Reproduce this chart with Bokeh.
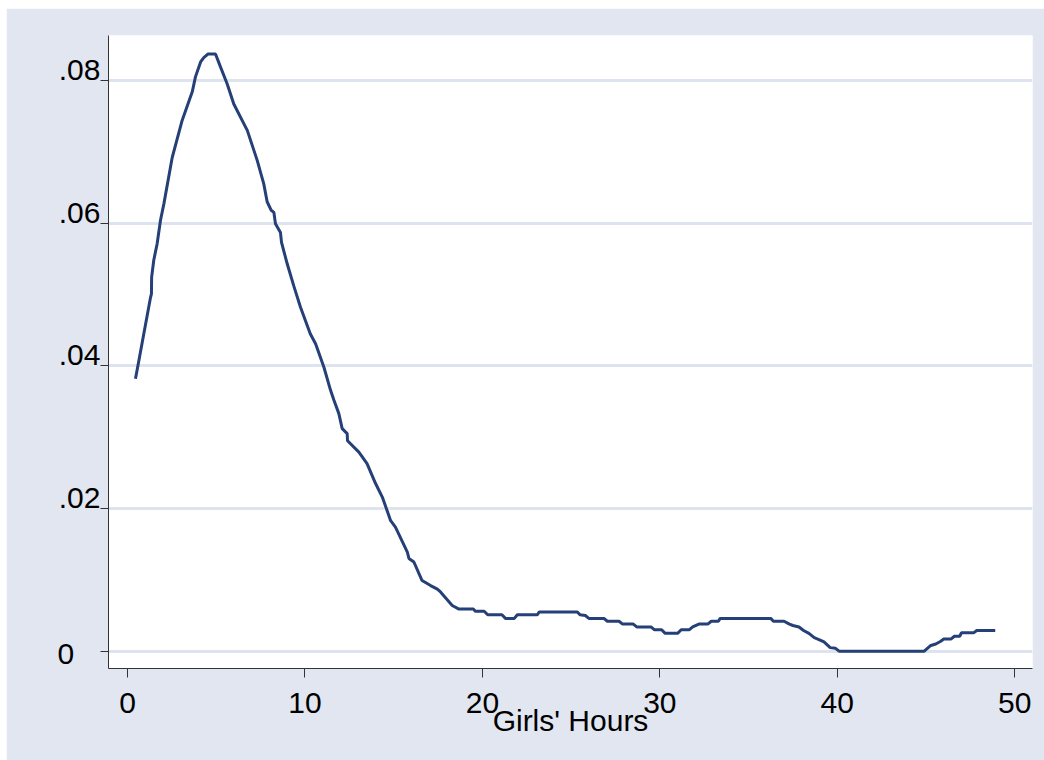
from bokeh.plotting import figure
from bokeh.models import Range1d, FixedTicker, Label, LinearAxis
from bokeh.embed import file_html
from bokeh.resources import INLINE

# ---- data ----
hours = [0.45, 0.64, 0.92, 1.30, 1.35, 1.36, 1.48, 1.67, 1.86, 2.05, 2.52, 3.08, 3.65, 3.83,
         4.12, 4.30, 4.53, 4.96, 5.24, 5.62, 5.99, 6.75, 7.31, 7.68, 7.87, 8.10, 8.25, 8.34,
         8.62, 8.68, 9.00, 9.37, 9.75, 10.30, 10.60, 11.07, 11.44, 11.63, 11.91, 12.10, 12.38,
         12.40, 13.04, 13.50, 13.98, 14.36, 14.83, 15.10, 15.77, 15.86, 16.14, 16.60, 17.08,
         17.46, 17.64, 18.30, 18.68, 19.50, 19.60, 20.10, 20.30, 21.10, 21.30, 21.80, 21.97,
         23.10, 23.20, 25.35, 25.50, 25.80, 26.00, 26.85, 27.04, 27.70, 27.90, 28.50, 28.70,
         29.50, 29.70, 30.10, 30.30, 31.00, 31.20, 31.65, 31.85, 32.20, 32.70, 32.90, 33.30,
         33.40, 36.25, 36.40, 37.00, 37.30, 37.50, 37.84, 38.10, 38.40, 38.70, 39.00, 39.25,
         39.60, 39.90, 40.10, 44.90, 45.27, 45.55, 45.83, 46.00, 46.40, 46.60, 46.90, 47.00,
         47.70, 47.86, 48.90]
density = [0.0382, 0.0407, 0.0445, 0.0496, 0.0501, 0.0524, 0.0548, 0.0571, 0.0604, 0.0627,
           0.0692, 0.0744, 0.0784, 0.0805, 0.0826, 0.0832, 0.0837, 0.0837, 0.0819, 0.0795,
           0.0767, 0.0730, 0.0688, 0.0655, 0.0630, 0.0618, 0.0615, 0.0599, 0.0587, 0.0573,
           0.0543, 0.0512, 0.0482, 0.0445, 0.0431, 0.0398, 0.0366, 0.0352, 0.0333, 0.0312,
           0.0305, 0.0295, 0.0279, 0.0263, 0.0235, 0.0216, 0.0183, 0.0174, 0.0139, 0.0130,
           0.0125, 0.0099, 0.0092, 0.0087, 0.0083, 0.0064, 0.0059, 0.0059, 0.0056, 0.0056,
           0.0051, 0.0051, 0.0046, 0.0046, 0.0051, 0.0051, 0.0055, 0.0055, 0.0051, 0.0050,
           0.0046, 0.0046, 0.0042, 0.0042, 0.0038, 0.0038, 0.0034, 0.0034, 0.0030, 0.0030,
           0.0025, 0.0025, 0.0030, 0.0030, 0.0034, 0.0038, 0.0038, 0.0042, 0.0042, 0.0046,
           0.0046, 0.0042, 0.0042, 0.0038, 0.0036, 0.0034, 0.0029, 0.0025, 0.0019, 0.0016,
           0.0013, 0.0005, 0.0004, 0.0000, 0.0000, 0.0008, 0.0010, 0.0014, 0.0017, 0.0017,
           0.0021, 0.0021, 0.0026, 0.0026, 0.0029, 0.0029]

y_ticks = [0, 0.02, 0.04, 0.06, 0.08]
y_tick_labels = ["0", ".02", ".04", ".06", ".08"]
x_ticks = [0, 10, 20, 30, 40, 50]
x_title = "Girls' Hours"

BG = "#e1e6f0"
GRID = "#dde3ef"
LINE = "#253f77"
AXIS = "#333333"
FONT = "Liberation Sans"

H = 752
TOP, BOTTOM = 27, 92
X_START, X_END = -1.07, 51.0
Y0, Y1 = -0.002425, 0.0863
per_px = (Y1 - Y0) / (H - TOP - BOTTOM)
LABEL_RAISE = 10.5  # px: Stata draws these labels sitting just above their tick

p = figure(width=1038, height=H, output_backend="svg", toolbar_location=None,
           x_range=Range1d(X_START, X_END), y_range=Range1d(Y0, Y1),
           min_border_left=102, min_border_right=12, min_border_top=TOP, min_border_bottom=BOTTOM)
p.margin = (8, 0, 0, 6)
p.border_fill_color = BG
p.background_fill_color = "white"
p.outline_line_color = None

p.line(hours, density, line_width=3, line_color=LINE)

p.xgrid.visible = False
p.ygrid.ticker = FixedTicker(ticks=y_ticks)
p.ygrid.grid_line_color = GRID
p.ygrid.grid_line_width = 3

for ax in (p.xaxis[0], p.yaxis[0]):
    ax.axis_line_color = AXIS
    ax.axis_line_width = 1
    ax.major_tick_line_color = AXIS
    ax.major_tick_line_width = 1
    ax.major_tick_in = 0
    ax.minor_tick_line_color = None
    ax.major_label_text_font = FONT
    ax.major_label_text_font_size = "30px"
    ax.major_label_text_color = "black"

p.xaxis.ticker = FixedTicker(ticks=x_ticks)
p.xaxis.major_tick_out = 9
p.xaxis.major_label_standoff = 15
p.xaxis.axis_label = x_title
p.xaxis.axis_label_text_font = FONT
p.xaxis.axis_label_text_font_size = "30px"
p.xaxis.axis_label_text_font_style = "normal"
p.xaxis.axis_label_text_color = "black"
p.xaxis.axis_label_standoff = -12

# main y axis: line + ticks only
p.yaxis.ticker = FixedTicker(ticks=y_ticks)
p.yaxis.major_tick_out = 8
p.yaxis.major_label_standoff = 0
p.yaxis.major_label_text_font_size = "0px"
p.yaxis.major_label_text_color = None

# label-only axis for the decimal labels, raised a little above their ticks
dec_ticks = [v for v, t in zip(y_ticks, y_tick_labels) if t != "0"]
p.extra_y_ranges = {"ylab": Range1d(Y0 - LABEL_RAISE * per_px, Y1 - LABEL_RAISE * per_px)}
lab_axis = LinearAxis(y_range_name="ylab", ticker=FixedTicker(ticks=dec_ticks),
                      major_label_overrides={v: t for v, t in zip(y_ticks, y_tick_labels)},
                      axis_line_color=None, major_tick_line_color=None,
                      minor_tick_line_color=None, major_tick_out=0, major_tick_in=0,
                      major_label_standoff=0, major_label_text_font=FONT,
                      major_label_text_font_size="30px", major_label_text_color="black")
p.add_layout(lab_axis, "left")

# the "0" label is left aligned with the others (Stata style)
for v, t in zip(y_ticks, y_tick_labels):
    if t == "0":
        p.add_layout(Label(x=X_START, y=v, x_offset=-51, y_offset=-3, text=t,
                           text_align="left", text_baseline="middle",
                           text_font=FONT, text_font_size="30px", text_color="black"),
                     "left")

open("out.html", "w").write(file_html(p, INLINE))
